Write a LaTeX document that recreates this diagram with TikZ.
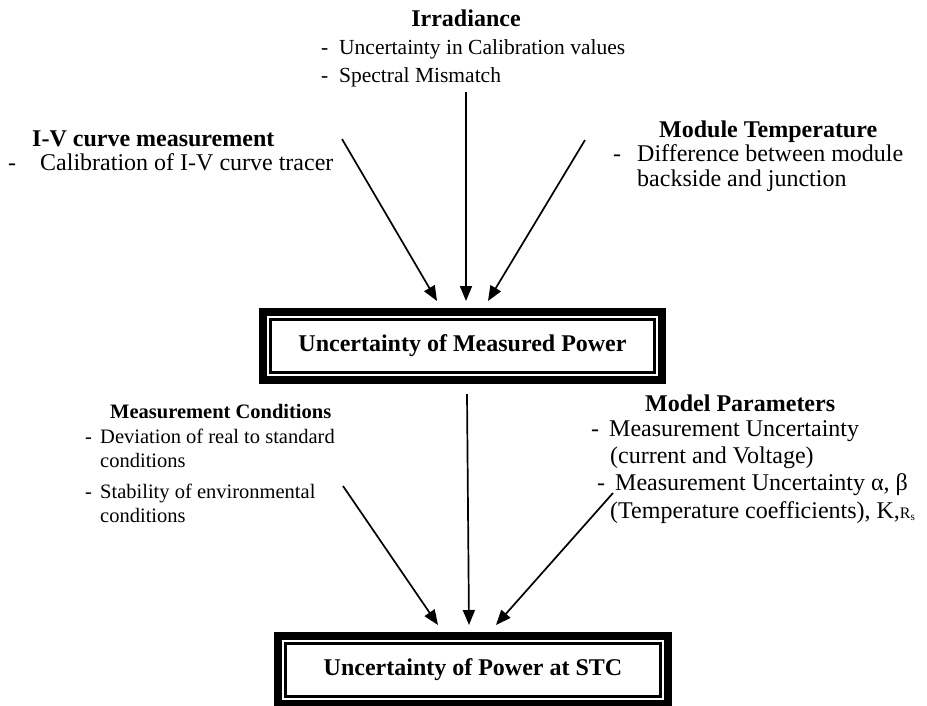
\documentclass[tikz,border=0pt]{standalone}
\usepackage{fontspec}
\setmainfont{Liberation Serif}
\usetikzlibrary{arrows.meta}
\begin{document}
\begin{tikzpicture}[x=1pt,y=-1pt,
  txt/.style={anchor=base west, inner sep=0pt, font=\fontsize{24}{28}\selectfont},
  hd/.style={anchor=base west, inner sep=0pt, font=\fontsize{24}{28}\selectfont\bfseries},
  smalltxt/.style={anchor=base west, inner sep=0pt, font=\fontsize{20.5}{24}\selectfont},
  smallhd/.style={anchor=base west, inner sep=0pt, font=\fontsize{20.5}{24}\selectfont\bfseries},
  midtxt/.style={anchor=base west, inner sep=0pt, font=\fontsize{21.5}{25}\selectfont},
  arr/.style={line width=1.7pt, -{Triangle[length=15pt,width=12pt]}},
  frame/.style={draw, line width=8pt, outer sep=0pt, inner sep=0pt, font=\fontsize{24}{28}\selectfont\bfseries},
  innerframe/.style={line width=2.2pt}
]
\useasboundingbox (0,0) rectangle (927,705);

% boxes
\node[frame, minimum width=399pt, minimum height=68pt] (b1) at (462.5,346) {Uncertainty of Measured Power};
\draw[innerframe] ([shift={(7.5pt,-7.5pt)}]b1.north west) rectangle ([shift={(-7.5pt,7.5pt)}]b1.south east);
\node[frame, minimum width=390pt, minimum height=68pt] (b2) at (473,670) {Uncertainty of Power at STC};
\draw[innerframe] ([shift={(7.5pt,-7.5pt)}]b2.north west) rectangle ([shift={(-7.5pt,7.5pt)}]b2.south east);

% Irradiance
\node[hd, anchor=base] (irr) at (466,26) {Irradiance};
\node[midtxt] (irr1d) at (321,54) {-};
\node[midtxt] (irr1) at (339,54) {Uncertainty in Calibration values};
\node[midtxt] (irr2d) at (321,82) {-};
\node[midtxt] (irr2) at (339,82) {Spectral Mismatch};

% I-V
\node[hd] (iv) at (32,146) {I-V curve measurement};
\node[txt] (iv1d) at (8,170) {-};
\node[txt] (iv1) at (40,170) {Calibration of I-V curve tracer};

% Module temperature
\node[hd] (mt) at (659,137) {Module Temperature};
\node[txt] (mt1d) at (613,161) {-};
\node[txt] (mt1) at (637,161) {Difference between module};
\node[txt] (mt2) at (637,186) {backside and junction};

% Measurement conditions
\node[smallhd] (mc) at (110,418) {Measurement Conditions};
\node[smalltxt] (mc1d) at (85,443) {-};
\node[smalltxt] (mc1) at (100,443) {Deviation of real to standard};
\node[smalltxt] (mc2) at (100,467) {conditions};
\node[smalltxt] (mc3d) at (85,498) {-};
\node[smalltxt] (mc3) at (100,498) {Stability of environmental};
\node[smalltxt] (mc4) at (100,522) {conditions};

% Model parameters
\node[hd] (mp) at (645,411) {Model Parameters};
\node[txt] (mp1d) at (591,436) {-};
\node[txt] (mp1) at (609,436) {Measurement Uncertainty};
\node[txt] (mp2) at (610,463) {(current and Voltage)};
\node[txt] (mp3d) at (597,490) {-};
\node[txt] (mp3) at (615,490) {Measurement Uncertainty α, β};
\node[txt] (mp4) at (610,518) {(Temperature coefficients), K,{\fontsize{16}{18}\selectfont R\textsubscript{s}}};

% arrow end points
\coordinate (a1s) at (342,139); \coordinate (a1e) at (437,301);
\coordinate (a2s) at (466,92);  \coordinate (a2e) at (466,301);
\coordinate (a3s) at (585,140); \coordinate (a3e) at (488,301);
\coordinate (c1s) at (343,486); \coordinate (c1e) at (438,625);
\coordinate (c2s) at (467,394); \coordinate (c2e) at (469,625);
\coordinate (c3s) at (613,493); \coordinate (c3e) at (496,625);

\draw[arr] (a1s) -- (a1e);
\draw[arr] (a2s) -- (a2e);
\draw[arr] (a3s) -- (a3e);
\draw[arr] (c1s) -- (c1e);
\draw[arr] (c2s) -- (c2e);
\draw[arr] (c3s) -- (c3e);
\end{tikzpicture}
\end{document}
